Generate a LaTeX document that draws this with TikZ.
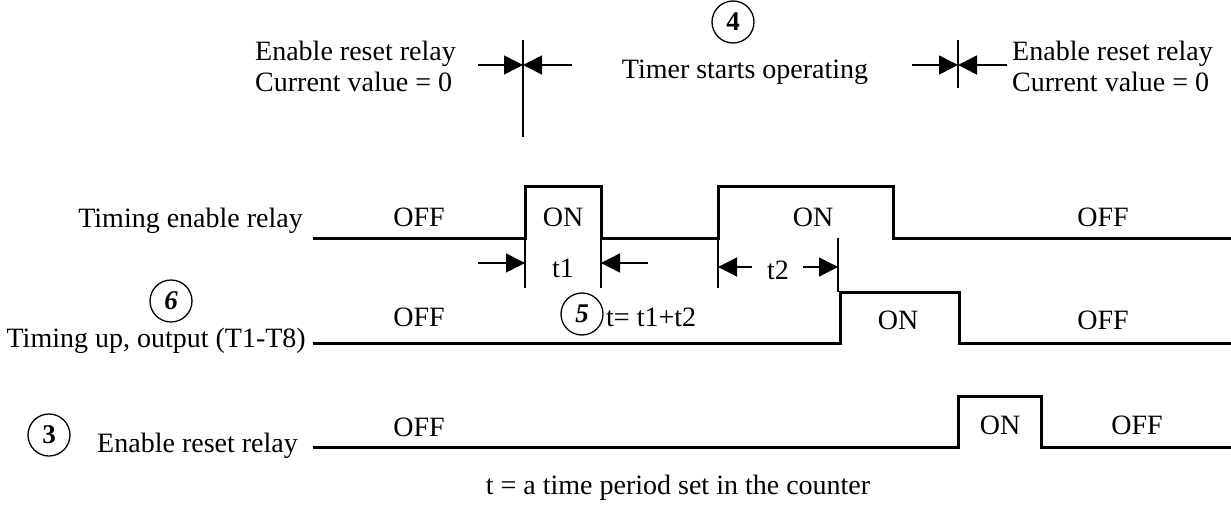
\documentclass[tikz,border=0pt]{standalone}
\usepackage{fontspec}
\setmainfont{Liberation Serif}
\usetikzlibrary{arrows.meta}
\tikzset{
  wave/.style={line width=3pt},
  markline/.style={line width=1.5pt},
  dimarrow/.style={-{Triangle[length=19pt,width=19pt]}, line width=1.5pt},
  lbl/.style={font=\fontsize{28}{31}\selectfont, inner sep=0pt},
  circnum/.style={circle, draw, line width=1.3pt, minimum size=42pt, inner sep=0pt,
    font=\fontsize{27}{30}\selectfont\bfseries},
}
\begin{document}
\begin{tikzpicture}[x=1pt,y=-1pt]
  \useasboundingbox (0,0) rectangle (1231,506);

  % Top annotations
  \node[lbl, align=left, anchor=west] (rstL) at (255,66) {Enable reset relay\\Current value = 0};
  \node[lbl, align=left, anchor=west] (rstR) at (1012,66) {Enable reset relay\\Current value = 0};
  \node[circnum] (n4) at (733,22) {4};
  \node[lbl] (timer) at (745,72) {Timer starts operating};

  % Left marker
  \coordinate (mkL) at (523,65);
  \coordinate (mkLtop) at (523,40);
  \coordinate (mkLbot) at (523,137);
  \coordinate (mkLa) at (478,65);
  \coordinate (mkLb) at (572,65);
  \draw[markline] (mkLtop) -- (mkLbot);
  \draw[dimarrow] (mkLa) -- (mkL);
  \draw[dimarrow] (mkLb) -- (mkL);

  % Right marker
  \coordinate (mkR) at (958,65);
  \coordinate (mkRtop) at (958,40);
  \coordinate (mkRbot) at (958,88);
  \coordinate (mkRa) at (912,65);
  \coordinate (mkRb) at (1007,65);
  \draw[markline] (mkRtop) -- (mkRbot);
  \draw[dimarrow] (mkRa) -- (mkR);
  \draw[dimarrow] (mkRb) -- (mkR);

  % Timing enable relay
  \node[lbl, anchor=base east] (sigA) at (303,227) {Timing enable relay};
  \draw[wave] (313,238) -- (525,238) -- (525,186) -- (601,186) -- (601,238)
    -- (718,238) -- (718,186) -- (893,186) -- (893,238) -- (1231,238);
  \node[lbl] (offA1) at (419,217) {OFF};
  \node[lbl] (onA1) at (563,217) {ON};
  \node[lbl] (onA2) at (813,217) {ON};
  \node[lbl] (offA2) at (1103,217) {OFF};

  % t1
  \draw[markline] (525,238) -- (525,288);
  \draw[markline] (601,238) -- (601,288);
  \coordinate (t1a) at (525,263);
  \coordinate (t1b) at (601,263);
  \coordinate (t1ta) at (478,263);
  \coordinate (t1tb) at (648,263);
  \draw[dimarrow] (t1ta) -- (t1a);
  \draw[dimarrow] (t1tb) -- (t1b);
  \node[lbl] (t1) at (563,268) {t1};

  % t2
  \draw[markline] (718,238) -- (718,288);
  \draw[markline] (838,238) -- (838,292);
  \coordinate (t2a) at (718,267);
  \coordinate (t2b) at (838,267);
  \coordinate (t2ta) at (752,267);
  \coordinate (t2tb) at (803,267);
  \draw[dimarrow] (t2ta) -- (t2a);
  \draw[dimarrow] (t2tb) -- (t2b);
  \node[lbl] (t2) at (778,270) {t2};

  % Timing up, output
  \node[circnum, font=\fontsize{27}{30}\selectfont\bfseries\itshape] (n6) at (171,301) {6};
  \node[lbl, anchor=base east] (sigB) at (306,347) {Timing up, output (T1-T8)};
  \draw[wave] (313,343) -- (840,343) -- (840,292) -- (959,292) -- (959,343) -- (1231,343);
  \node[lbl] (offB1) at (419,317) {OFF};
  \node[circnum, font=\fontsize{27}{30}\selectfont\bfseries\itshape] (n5) at (582,314) {5};
  \node[lbl, anchor=west] (sum) at (606,317) {t= t1+t2};
  \node[lbl] (onB) at (898,320) {ON};
  \node[lbl] (offB2) at (1103,320) {OFF};

  % Enable reset relay
  \node[circnum] (n3) at (49,435) {3};
  \node[lbl, anchor=base east] (sigC) at (298,452) {Enable reset relay};
  \draw[wave] (313,447) -- (958,447) -- (958,396) -- (1041,396) -- (1041,447) -- (1231,447);
  \node[lbl] (offC1) at (419,427) {OFF};
  \node[lbl] (onC) at (1000,425) {ON};
  \node[lbl] (offC2) at (1137,425) {OFF};

  \node[lbl] (note) at (678,488) {t = a time period set in the counter};
\end{tikzpicture}
\end{document}
